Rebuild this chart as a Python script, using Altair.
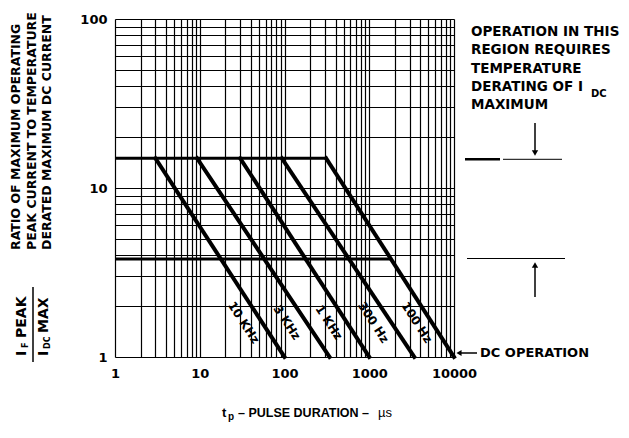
import altair as alt
import pandas as pd

# ---- data ----
freq_labels = ["10 KHz", "3 KHz", "1 KHz", "300 Hz", "100 Hz"]
start_us = [3.0, 9.3, 30.0, 93.0, 310.0]        # pulse duration where each line leaves the 15x level
end_us = [100.0, 340.0, 1000.0, 3400.0, 10000.0]  # pulse duration where each line reaches ratio 1
peak_ratio = 15.0
dc_ratio = 1.0
label_x = [33.0, 107.0, 335.0, 1120.0, 3650.0]
label_y = [1.6, 1.6, 1.6, 1.6, 1.6]

level_names = ["upper", "lower"]
level_y = [15.0, 3.8]
level_x_start = [1.0, 1.0]
level_x_end = [310.0, 1800.0]

x_label_values = [1, 10, 100, 1000, 10000]
y_label_values = [1, 10, 100]
x_grid = [m * 10 ** e for e in range(4) for m in range(1, 10)] + [10000]
y_grid = [m * 10 ** e for e in range(2) for m in range(1, 10)] + [100]

W, H = 339, 338
BOLD = "DejaVu Sans"

rows = []
for name, s, e in zip(freq_labels, start_us, end_us):
    rows.append({"f": name, "x": s, "y": peak_ratio, "o": 0})
    rows.append({"f": name, "x": e, "y": dc_ratio, "o": 1})
diag_df = pd.DataFrame(rows)

lvl_rows = []
for name, y, xs, xe in zip(level_names, level_y, level_x_start, level_x_end):
    lvl_rows.append({"f": name, "x": xs, "y": y, "o": 0})
    lvl_rows.append({"f": name, "x": xe, "y": y, "o": 1})
lvl_df = pd.DataFrame(lvl_rows)

lab_df = pd.DataFrame({"x": label_x, "y": label_y, "t": freq_labels})


def expr_for(vals):
    return "indexof([" + ",".join(str(v) for v in vals) + "], datum.value) >= 0 ? datum.label : ''"


xscale = alt.Scale(type="log", domain=[1, 10000], nice=False)
yscale = alt.Scale(type="log", domain=[1, 100], nice=False)

xaxis = alt.Axis(values=x_grid, labelExpr=expr_for(x_label_values), format="d", grid=True,
                 ticks=False, domain=False, title=None, labelFont=BOLD, labelFontWeight="bold",
                 labelFontSize=13, labelColor="black", labelPadding=10, labelFlush=False,
                 labelOverlap=False, gridColor="black", gridWidth=1.2, gridOpacity=1)
yaxis = alt.Axis(values=y_grid, labelExpr=expr_for(y_label_values), format="d", grid=True,
                 ticks=False, domain=False, title=None, labelFont=BOLD, labelFontWeight="bold",
                 labelFontSize=13, labelColor="black", labelPadding=8, labelFlush=False,
                 labelOverlap=False, gridColor="black", gridWidth=1.2, gridOpacity=1)

diag = alt.Chart(diag_df).mark_line(color="black", strokeWidth=4, strokeCap="square").encode(
    x=alt.X("x:Q", scale=xscale, axis=xaxis),
    y=alt.Y("y:Q", scale=yscale, axis=yaxis),
    detail="f:N",
    order="o:Q",
)
levels = alt.Chart(lvl_df).mark_line(color="black", strokeWidth=3).encode(
    x="x:Q", y="y:Q", detail="f:N", order="o:Q"
)
labels = alt.Chart(lab_df).mark_text(angle=57, font=BOLD, fontWeight="bold", fontSize=12,
                                     color="black", align="center", baseline="middle").encode(
    x="x:Q", y="y:Q", text="t:N"
)


def txt(t, x, y, size=13, angle=0, align="left", baseline="middle", font=BOLD, weight="bold"):
    return alt.Chart(pd.DataFrame({"t": [t]})).mark_text(
        angle=angle, align=align, baseline=baseline, font=font, fontWeight=weight,
        fontSize=size, color="black").encode(x=alt.value(x), y=alt.value(y), text="t:N")


def seg(x1, x2, y1, y2, w=1.0):
    return alt.Chart(pd.DataFrame({"a": [0]})).mark_rule(color="black", strokeWidth=w).encode(
        x=alt.value(x1), x2=alt.value(x2), y=alt.value(y1), y2=alt.value(y2))


def head(shape, x, y, size=45):
    return alt.Chart(pd.DataFrame({"a": [0]})).mark_point(
        shape=shape, filled=True, color="black", size=size, opacity=1).encode(
        x=alt.value(x), y=alt.value(y))


ann = []
# y-axis title (rotated)
ann.append(txt("RATIO OF MAXIMUM OPERATING", -99, 231, size=12.5, angle=270))
ann.append(txt("PEAK CURRENT TO TEMPERATURE", -83.5, 231, size=12.5, angle=270))
ann.append(txt("DERATED MAXIMUM DC CURRENT", -68, 231, size=12.5, angle=270))
# fraction I_F PEAK / I_DC MAX
ann.append(txt("I", -93, 337, size=14, angle=270))
ann.append(txt("F", -89, 329, size=8, angle=270))
ann.append(txt("PEAK", -93, 319, size=14, angle=270))
ann.append(seg(-82, -82, 268, 343, 1.5))
ann.append(txt("I", -71, 337, size=14, angle=270))
ann.append(txt("DC", -67, 330, size=8, angle=270))
ann.append(txt("MAX", -71, 314, size=14, angle=270))
# right-hand note
note_lines = ["OPERATION IN THIS", "REGION REQUIRES", "TEMPERATURE", "DERATING OF I", "MAXIMUM"]
note_y = [13, 31.3, 49.6, 68, 86.3]
for t, yy in zip(note_lines, note_y):
    ann.append(txt(t, 356, yy, size=13.5))
ann.append(txt("DC", 476, 75, size=10))
# level markers and arrows on the right
ann.append(seg(350, 385, 140.3, 140.3, 2.5))
ann.append(seg(388, 447, 140.3, 140.3, 1))
ann.append(seg(420, 420, 104, 132, 1.5))
ann.append(head("triangle-down", 420, 134, 40))
ann.append(seg(352, 450, 239.5, 239.5, 1))
ann.append(seg(420, 420, 248, 278, 1.5))
ann.append(head("triangle-up", 420, 246, 40))
# DC operation
ann.append(seg(345, 362, 334, 334, 1.5))
ann.append(head("triangle-left", 344, 334, 35))
ann.append(txt("DC OPERATION", 365, 334, size=13))
# x-axis title
ann.append(txt("t", 107, 394, size=13, font="Liberation Sans"))
ann.append(txt("p", 113, 398, size=10, font="Liberation Sans"))
ann.append(txt("\u2013 PULSE DURATION \u2013", 123, 394, size=12.5, font="Liberation Sans"))
ann.append(txt("\u00b5s", 263, 394, size=13, font="Liberation Sans", weight="normal"))

chart = alt.layer(diag, levels, labels, *ann).properties(
    width=W, height=H,
    autosize=alt.AutoSizeParams(type="none"),
    padding={"left": 107, "top": 11, "right": 167, "bottom": 68},
).configure_view(stroke="black", strokeWidth=2.5).configure(background="white")

chart.save("out.html", embed_options={"renderer": "svg", "actions": False})
